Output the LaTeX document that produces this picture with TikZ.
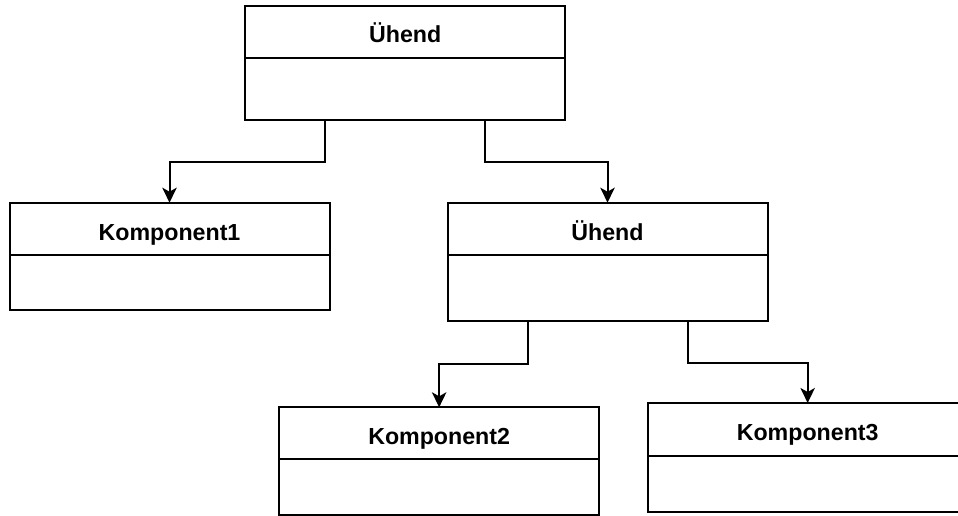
\documentclass[tikz,border=0pt]{standalone}
\usepackage{fontspec}
\setmainfont{Liberation Sans}
\usetikzlibrary{arrows.meta,calc}

\tikzset{
  classbox/.style={draw=black, line width=1pt, fill=white, minimum width=160pt,
    inner sep=0pt, outer sep=0pt},
  classname/.style={font=\fontsize{11.6pt}{13pt}\selectfont\bfseries, text=black,
    inner sep=0pt, anchor=base},
  divider/.style={draw=black, line width=1pt},
  conn/.style={draw=black, line width=1pt,
    -{Stealth[length=7.5pt,width=7.2pt,inset=2pt]}},
}

\begin{document}
\begin{tikzpicture}[x=0.5pt, y=-0.5pt]
  \clip (0,0) rectangle (958,515);
  \fill[white] (0,0) rectangle (958,515);

  % class boxes: outer frame, header divider, name on its baseline
  \node[classbox, minimum height=57pt] (top) at (405.2,63) {};
  \draw[divider] (top.west |- 0,58) -- (top.east |- 0,58);
  \node[classname] (topname) at (405.2,42.5) {Ühend};

  \node[classbox, minimum height=53.65pt] (k1) at (169.5,256.35) {};
  \draw[divider] (k1.west |- 0,255) -- (k1.east |- 0,255);
  \node[classname] (k1name) at (169.5,240) {Komponent1};

  \node[classbox, minimum height=59pt] (mid) at (607.5,261.7) {};
  \draw[divider] (mid.west |- 0,255) -- (mid.east |- 0,255);
  \node[classname] (midname) at (607.5,240) {Ühend};

  \node[classbox, minimum height=53.6pt] (k2) at (439.15,460.9) {};
  \draw[divider] (k2.west |- 0,459.3) -- (k2.east |- 0,459.3);
  \node[classname] (k2name) at (439.15,444.5) {Komponent2};

  \node[classbox, minimum height=54.35pt] (k3) at (807.65,457.35) {};
  \draw[divider] (k3.west |- 0,455.7) -- (k3.east |- 0,455.7);
  \node[classname] (k3name) at (807.65,440) {Komponent3};

  % orthogonal connectors from parent to child
  \draw[conn] ($(top.south west)!0.25!(top.south east)$) -- ++(0,42) -| (k1.north);
  \draw[conn] ($(top.south west)!0.75!(top.south east)$) -- ++(0,42) -| (mid.north);
  \draw[conn] ($(mid.south west)!0.25!(mid.south east)$) -- ++(0,43) -| (k2.north);
  \draw[conn] ($(mid.south west)!0.75!(mid.south east)$) -- ++(0,42) -| (k3.north);
\end{tikzpicture}
\end{document}
